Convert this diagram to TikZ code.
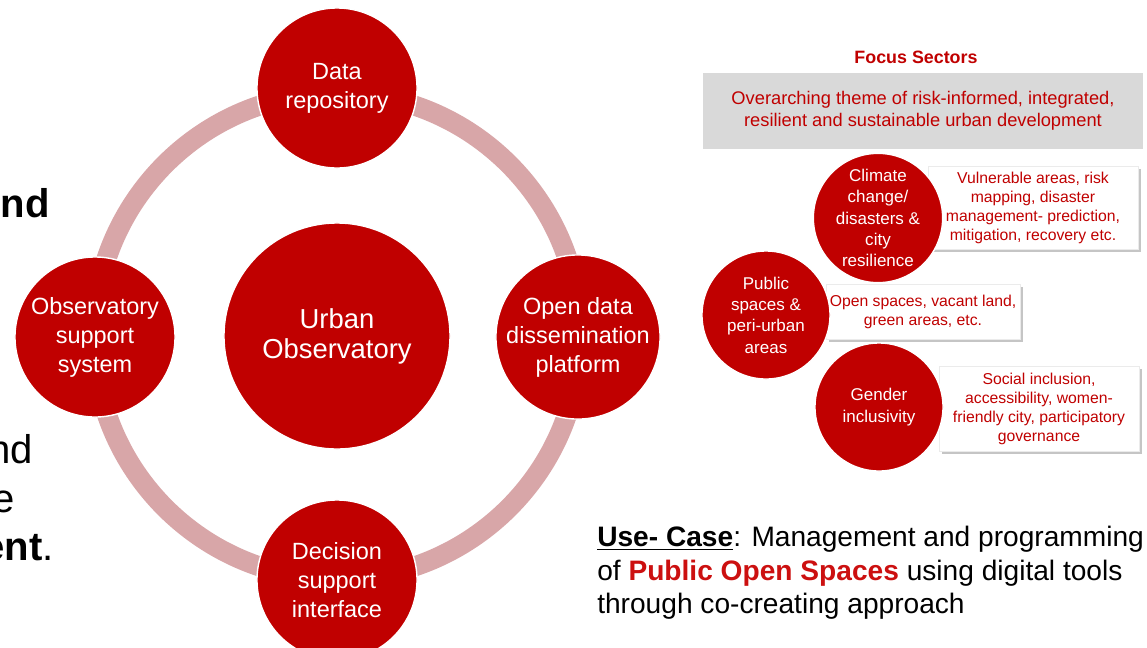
\documentclass[tikz,border=0pt]{standalone}
\usepackage{fontspec}
\setmainfont{Liberation Sans}
\usetikzlibrary{shadows}
\definecolor{obsred}{RGB}{192,0,0}
\definecolor{ringpink}{RGB}{216,166,168}
\definecolor{sectorgray}{RGB}{217,217,217}
\definecolor{caseRed}{RGB}{204,16,16}
\begin{document}
\begin{tikzpicture}[x=0.025cm, y=-0.025cm,
	hub/.style={circle, fill=obsred, draw=white, line width=1pt, text=white, align=center, inner sep=0pt},
	part/.style={hub, minimum size=4cm, font=\fontsize{16.7}{20.6}\selectfont},
	sector/.style={hub, minimum size=3.2cm, font=\fontsize{12.1}{15.2}\selectfont},
	detail/.style={rectangle, fill=white, draw=black!8, text=obsred, align=center, inner sep=0pt, font=\fontsize{11.2}{13.5}\selectfont, drop shadow={shadow xshift=2pt, shadow yshift=-2pt, fill=black!45}},
	sidetext/.style={anchor=base east, inner sep=0pt, font=\fontsize{28.5}{34}\selectfont}]
	\useasboundingbox (0,0) rectangle (1147,647);
	\node [hub, minimum size=5.65cm, font=\fontsize{19.5}{21.3}\selectfont] (observatory) at (337,336) {Urban\\Observatory};
	\draw [ringpink, line width=0.5cm] (observatory.center) circle (6.075cm);
	\node [part] (repository) at (337,88) {Data\\repository};
	\node [part] (dissemination) at (578,337) {Open data\\dissemination\\platform};
	\node [part] (decision) at (337,580) {Decision\\support\\interface};
	\node [part] (support) at (95,337) {Observatory\\support\\system};
	\node [sidetext] (andtop) at (50,217) {\textbf{nd}};
	\node [sidetext] (andlow) at (33,463) {nd};
	\node [sidetext] (thefrag) at (15,512) {e};
	\node [sidetext] (devfrag) at (54,560) {\textbf{ent}.};
	\node [text=obsred, font=\bfseries\fontsize{12.7}{15}\selectfont] (focus) at (916,57) {Focus Sectors};
	\node [fill=sectorgray, minimum width=11cm, minimum height=1.875cm, text=obsred, align=center, font=\fontsize{13}{15.6}\selectfont] (theme) at (923,111) {Overarching theme of risk-informed, integrated,\\resilient and sustainable urban development};
	\node [detail, minimum width=5.25cm, minimum height=2.075cm] (hazardnote) at (1033,208) {Vulnerable areas, risk\\mapping, disaster\\management- prediction,\\mitigation, recovery etc.};
	\node [detail, minimum width=4.85cm, minimum height=1.375cm] (spacenote) at (923,312) {Open spaces, vacant land,\\green areas, etc.};
	\node [detail, minimum width=5cm, minimum height=2.125cm] (gendernote) at (1039,409) {Social inclusion,\\accessibility, women-\\friendly city, participatory\\governance};
	\node [sector] (climate) at (878,218) {Climate\\change/\\disasters \&\\city\\resilience};
	\node [sector] (publicspace) at (766,315) {Public\\spaces \&\\peri-urban\\areas};
	\node [sector] (gender) at (879,407) {Gender\\inclusivity};
	\node [anchor=north west, inner sep=0pt, align=left, font=\fontsize{20}{23.8}\selectfont] (usecase) at (597,526) {\underline{\textbf{Use- Case}}: Management and programming\\of \textcolor{caseRed}{\textbf{Public Open Spaces}} using digital tools\\through co-creating approach};
\end{tikzpicture}
\end{document}
